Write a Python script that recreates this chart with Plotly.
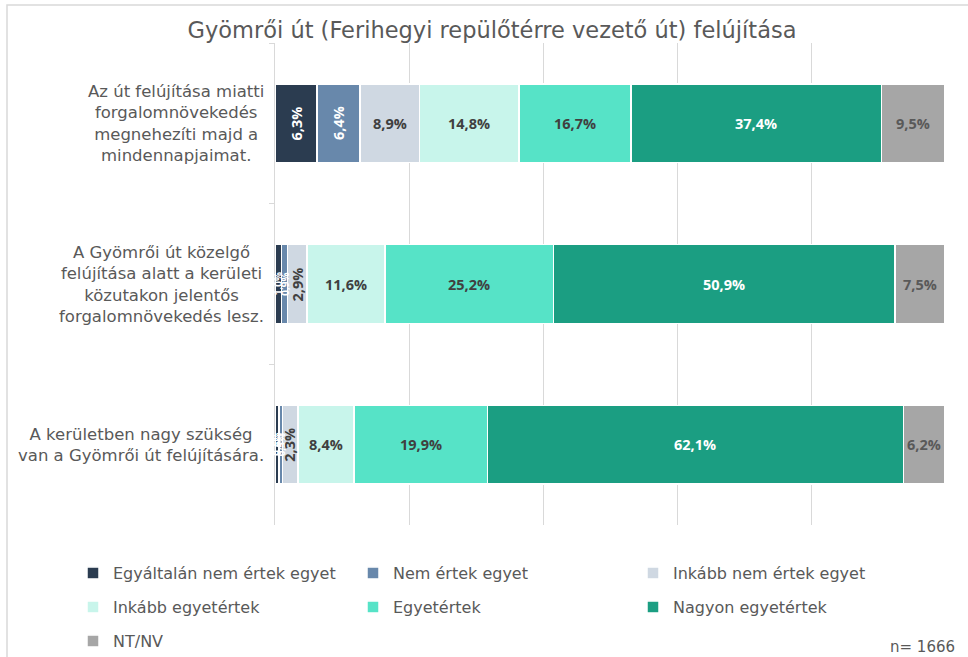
import plotly.graph_objects as go

categories = [
    "Az út felújítása miatti<br>forgalomnövekedés<br>megnehezíti majd a<br>mindennapjaimat.",
    "A Gyömrői út közelgő<br>felújítása alatt a kerületi<br>közutakon jelentős<br>forgalomnövekedés lesz.",
    "A kerületben nagy szükség<br>van a Gyömrői út felújítására.",
]
series_names = [
    "Egyáltalán nem értek egyet",
    "Nem értek egyet",
    "Inkább nem értek egyet",
    "Inkább egyetértek",
    "Egyetértek",
    "Nagyon egyetértek",
    "NT/NV",
]
values = {
    "Egyáltalán nem értek egyet": [6.3, 1.0, 0.6],
    "Nem értek egyet": [6.4, 0.9, 0.5],
    "Inkább nem értek egyet": [8.9, 2.9, 2.3],
    "Inkább egyetértek": [14.8, 11.6, 8.4],
    "Egyetértek": [16.7, 25.2, 19.9],
    "Nagyon egyetértek": [37.4, 50.9, 62.1],
    "NT/NV": [9.5, 7.5, 6.2],
}
colors = ["#2B3C50", "#6888AB", "#CFD8E2", "#C8F5EB", "#56E3C7", "#1B9E82", "#A6A6A6"]
text_colors = ["#FFFFFF", "#FFFFFF", "#404040", "#404040", "#404040", "#FFFFFF", "#595959"]
title_text = "Gyömrői út (Ferihegyi repülőtérre vezető út) felújítása"
n_text = "n= 1666"

FONT = "DejaVu Sans"
VFONT = "Open Sans"
W, H = 968, 657
ML, MR, MT, MB = 275, 23, 43, 132
PW, PH = W - ML - MR, H - MT - MB


def px_x(x):
    return (x - ML) / PW


def px_y(y):
    return (H - MB - y) / PH


legend_ids = ["legend", "legend", "legend", "legend2", "legend2", "legend2", "legend3"]

fig = go.Figure()
for name, col, lg in zip(series_names, colors, legend_ids):
    fig.add_trace(go.Bar(
        y=categories, x=values[name], name=name, orientation="h",
        marker=dict(color=col, line=dict(color="#FFFFFF", width=1.5)),
        width=0.49, hoverinfo="x+name", legend=lg,
    ))

annotations = []
cum = [0.0] * len(categories)
for si, name in enumerate(series_names):
    for ci, cat in enumerate(categories):
        v = values[name][ci]
        mid = cum[ci] + v / 2
        cum[ci] += v
        rotated = v < 8 and name != "NT/NV"
        txt = f"{v:.1f}%".replace(".", ",")
        small = v < 1.5
        annotations.append(dict(
            x=mid, y=cat, xref="x", yref="y", text=f"<b>{txt}</b>",
            showarrow=False, textangle=-90 if rotated else 0,
            font=dict(family=VFONT, size=10 if small else 14.5, color=text_colors[si]),
        ))

for ci, cat in enumerate(categories):
    annotations.append(dict(
        x=px_x(266), xref="paper", y=cat, yref="y",
        text=cat, showarrow=False, align="center", xanchor="right",
        font=dict(family=FONT, size=16.5, color="#595959"),
    ))

annotations.append(dict(
    x=px_x(957), y=px_y(647), xref="paper", yref="paper", text=n_text,
    showarrow=False, xanchor="right", yanchor="middle",
    font=dict(family=FONT, size=15, color="#595959"),
))


def legend_cfg(y_px):
    return dict(orientation="h", x=px_x(73), xanchor="left",
                y=px_y(y_px), yanchor="middle",
                entrywidth=235, entrywidthmode="pixels", traceorder="normal",
                font=dict(family=FONT, size=16, color="#595959"),
                itemwidth=30, bgcolor="rgba(0,0,0,0)")


fig.update_layout(
    width=W, height=H,
    margin=dict(l=ML, r=MR, t=MT, b=MB, autoexpand=False),
    paper_bgcolor="#FFFFFF", plot_bgcolor="#FFFFFF",
    barmode="stack", bargap=0.5,
    title=dict(text=title_text, x=492 / W, xref="container", xanchor="center",
               y=1 - 30 / H, yref="container", yanchor="middle",
               font=dict(family=FONT, size=22.5, color="#595959")),
    xaxis=dict(range=[0, 100], dtick=20, showgrid=True, gridcolor="#D9D9D9", gridwidth=1,
               showticklabels=False, zeroline=False, showline=False, fixedrange=True),
    yaxis=dict(autorange="reversed", showticklabels=False, showgrid=False, zeroline=False,
               showline=True, linecolor="#D9D9D9", linewidth=1,
               ticks="outside", tickson="boundaries", ticklen=5, tickcolor="#D9D9D9"),
    legend=legend_cfg(573),
    legend2=legend_cfg(607),
    legend3=legend_cfg(641),
    annotations=annotations,
    shapes=[dict(type="rect", xref="paper", yref="paper",
                 x0=px_x(7), x1=px_x(980), y0=px_y(670), y1=px_y(5),
                 line=dict(color="#D9D9D9", width=1.5), layer="below")],
)

fig.write_html("out.html", config={"displayModeBar": False},
               post_script="document.body.style.margin='0';document.body.style.overflow='hidden';")
